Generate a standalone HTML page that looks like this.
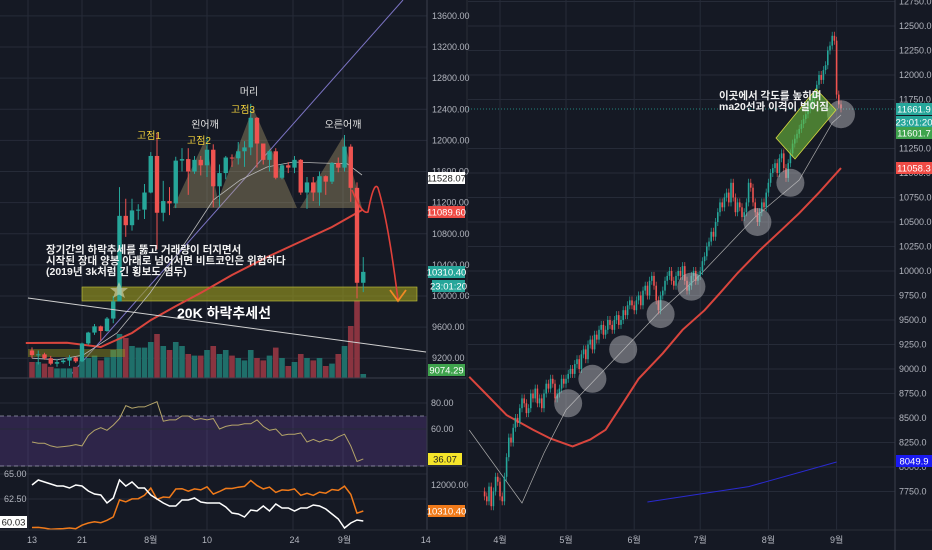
<!DOCTYPE html>
<html><head><meta charset="utf-8"><style>
html,body{margin:0;padding:0;background:#151924;}
svg{display:block;font-family:"Liberation Sans","Noto Sans CJK KR",sans-serif;}
</style></head><body>
<svg id="c" width="932" height="550" viewBox="0 0 932 550" xmlns="http://www.w3.org/2000/svg">
<rect x="0" y="0" width="932" height="550" fill="#151924"/>
<g id="lg"></g>
<g id="rg"></g>
</svg>
<script>
// ---------- LEFT CHART DATA (BTC daily, Jul 13 - Sep 4) ----------
const leftCloses=[9240,9250,9200,9130,9150,9170,9210,9160,9390,9530,9610,9550,9710,9930,11030,10910,11100,11110,11330,11800,11070,11220,11190,11740,11760,11600,11750,11680,11880,11410,11580,11780,11770,11860,11910,12290,11960,11750,11860,11520,11680,11650,11750,11330,11460,11330,11540,11470,11710,11650,11920,11390,10170,10310];
const leftHighs=[9340,9300,9270,9230,9190,9200,9240,9220,9400,9540,9640,9620,9730,10000,11400,11250,11250,11180,11440,11850,12100,11480,11400,11790,11900,11900,11800,11800,12050,11950,11690,11800,11820,11980,11990,12470,12300,11960,11880,11900,11700,11720,11800,11760,11530,11530,11600,11550,11720,11780,12070,11950,11460,10500];
const leftLows=[9200,9120,9180,9110,9090,9130,9100,9140,9150,9370,9500,9420,9540,9650,10000,10760,10840,10980,10990,11320,10600,10960,11040,11130,11600,11300,11570,11550,11530,11140,11150,11500,11660,11690,11660,11810,11650,11690,11600,11500,11500,11580,11580,11300,11120,11220,11160,11300,11440,11590,11600,11210,9970,10050];
const leftOpen0=9300;
const leftVolumes=[20,20,18,14,12,12,12,14,22,25,28,22,26,35,55,50,40,38,38,45,55,40,35,45,40,30,28,28,35,40,30,35,28,25,22,35,25,22,28,38,25,15,20,30,25,22,25,15,18,30,40,65,97,5];
const leftPriceTicks=[13600,13200,12800,12400,12000,11600,11200,10800,10400,10000,9600,9200];
const leftRedMADays=[-1,5.6,11,16,19,23,27,32,37.6,43,48,52.8];
const leftRedMAVals=[9396,9400,9345,9525,9690,9870,10040,10270,10500,10700,10887,11105];
const leftGrayMADays=[0,4,8.2,13.6,18.9,24.8,29,33.3,37.6,41.8,46,50.4,52.8];
const leftGrayMAVals=[9200,9180,9242,9525,10040,10720,11234,11490,11658,11722,11710,11700,11555];
const rsiVals=[50,49,49,47,46,46.5,47,48,47,55,59,61,59,63,68,78,76,77,77,79,81,66,67,67,70,70,67,68,67,68,60,62,63,63,64,64,67,62,59,60,55,56,56,57,50,52,50,52,51,54,56,47,35,37];
const rsiTicks=[80,60];
const osc1Vals=[63.9,64.4,64.2,64.0,63.8,63.8,63.6,63.9,63.8,63.3,63.0,62.9,62.1,62.6,64.4,63.8,64.2,63.6,63.6,62.9,62.5,62.1,61.8,61.8,62.4,62.4,62.6,62.2,62.1,62.1,62.1,61.7,61.1,61.0,60.7,61.4,61.3,61.8,61.3,62.0,61.6,61.6,61.3,61.6,61.6,61.9,61.8,61.5,61.0,60.5,59.6,60.1,60.4,60.3];
const osc1Ticks=[65.00,62.50];
const leftTimeLabels=["13","21","8월","10","24","9월","14"];
const leftTimeDays=[0,8,19,28,42,50,63];

// ---------- RIGHT CHART DATA (daily, from Mar 25) ----------
const rightCloses=[7700,7650,7800,7600,7750,7900,7850,
7700,7650,7900,8100,8300,8250,8400,8500,8450,8600,8700,8650,8550,8600,8750,8700,8800,8650,8700,8600,8750,8850,8800,8900,8850,8700,8750,8800,8900,8850,
8900,8950,9000,8950,9050,9100,9000,9150,9200,9100,9250,9300,9200,9350,9300,9400,9450,9350,9400,9500,9450,9400,9500,9550,9450,9500,9600,9550,9650,9700,9650,
9600,9700,9750,9650,9800,9850,9750,9900,9950,9850,9700,9600,9750,9800,9900,9950,10000,9900,9850,9950,10000,9950,10050,9900,9800,9850,9950,10000,9900,9950,
10000,10100,10150,10250,10300,10400,10350,10500,10600,10700,10650,10750,10800,10700,10900,10750,10600,10700,10650,10550,10600,10700,10900,10850,10700,10600,10500,10600,10700,10650,10800,
10900,11000,11050,11100,11000,11150,11200,11050,10950,11100,11200,11300,11350,11400,11450,11500,11550,11600,11650,11700,11750,11800,11900,12000,11950,12050,12100,12250,12300,12400,12350,
11800,11700,11660];
const rightOpen0=7750;
const rightPriceTicks=[12750,12500,12250,12000,11750,11250,11000,10750,10500,10250,10000,9750,9500,9250,9000,8750,8500,8250,8000,7750];
const rightRedMADays=[-7,0,10,22,30,40,48,55,62,70,81,90,100,107,115,125,135,143,152,162];
const rightRedMAVals=[8920,8760,8530,8380,8290,8210,8280,8380,8620,8900,9160,9400,9600,9775,9980,10210,10420,10590,10800,11050];
const rightGrayMADays=[-7,17,27,37,63,79,97,123,143,158,162];
const rightGrayMAVals=[8378,7633,8143,8582,9194,9571,9939,10551,10929,11510,11592];
const rightBlueDays=[74,120,160];
const rightBlueVals=[7643,7800,8051];
const circleDays=[38,49,63,80,94,124,139,162];
const circlePrices=[8650,8900,9200,9560,9840,10500,10900,11600];
const rightTimeLabels=["4월","5월","6월","7월","8월","9월"];
const rightTimeDays=[7,37,68,98,129,160];

const NS="http://www.w3.org/2000/svg";
function mk(tag,attrs,parent){const e=document.createElementNS(NS,tag);for(const k in attrs)e.setAttribute(k,attrs[k]);parent.appendChild(e);return e;}
function txt(s,attrs,parent){const e=mk("text",attrs,parent);e.textContent=s;return e;}
const lg=document.getElementById("lg"), rg=document.getElementById("rg");

const lx=d=>32+d*6.25;
const ly=p=>296-(p-10000)*0.0778;
const lvol=v=>378-v*0.8;
const rsiY=v=>403-(v-80)*1.3;
const oscY=v=>474+(65-v)*10;
const orY=p=>485-(p-12000)*0.0154;

leftPriceTicks.forEach(t=>{const l=mk("line",{x1:0,x2:427,y1:ly(t),y2:ly(t),stroke:"#262b38","stroke-width":1},lg);

});
[28,82,151,207,293,343].forEach(x=>{const l=mk("line",{x1:x,x2:x,y1:0,y2:530,stroke:"#262b38","stroke-width":1},lg);

});

let e=mk("line",{x1:68,y1:378,x2:403,y2:0,stroke:"#7c74c4","stroke-width":1},lg);



leftVolumes.forEach((v,i)=>{const o=i?leftCloses[i-1]:leftOpen0;const up=leftCloses[i]>=o;
const r=mk("rect",{x:lx(i)-2.8,y:lvol(v),width:5.6,height:378-lvol(v),fill:up?"#1f6f6a":"#8a3440"},lg);

});

e=mk("polygon",{points:"173,208 205,140 218,200 253,108 297,208",fill:"rgba(196,176,120,0.35)"},lg);


e=mk("polygon",{points:"300,208 343,137 362,208",fill:"rgba(196,176,120,0.35)"},lg);



e=mk("rect",{x:82,y:287,width:335,height:14,fill:"rgba(150,150,30,0.65)",stroke:"#c8c83c","stroke-width":0.6},lg);


e=mk("rect",{x:28,y:349,width:97,height:8,fill:"rgba(150,150,30,0.45)"},lg);



function path(days,vals,fx,fy){return days.map((d,i)=>(i?"L":"M")+fx(d).toFixed(1)+","+fy(vals[i]).toFixed(1)).join(" ");}
e=mk("path",{d:path(leftRedMADays,leftRedMAVals,lx,ly),fill:"none",stroke:"#d9453d","stroke-width":2},lg);


e=mk("path",{d:path(leftGrayMADays,leftGrayMAVals,lx,ly),fill:"none",stroke:"#b8b8b8","stroke-width":0.8},lg);



leftCloses.forEach((c,i)=>{const o=i?leftCloses[i-1]:leftOpen0;const up=c>=o;const col=up?"#26a69a":"#ef5350";const x=lx(i);
const w=mk("line",{x1:x,x2:x,y1:ly(leftHighs[i]),y2:ly(leftLows[i]),stroke:col,"stroke-width":1},lg);


const top=ly(Math.max(o,c)),bot=ly(Math.min(o,c));
const b=mk("rect",{x:x-2.2,y:top,width:4.4,height:Math.max(1,bot-top),fill:col},lg);

});

e=mk("line",{x1:28,y1:298,x2:426,y2:352,stroke:"#d0d0d0","stroke-width":1},lg);



e=mk("path",{d:"M352,190 Q362,215 368,212 Q374,180 378,188 Q388,220 398,300",fill:"none",stroke:"#e0403a","stroke-width":1.6},lg);


e=mk("path",{d:"M390,290 L398,301 L406,290",fill:"none",stroke:"#f08a24","stroke-width":1.8},lg);



e=mk("polygon",{points:"119,282 121.5,288 128,288 123,292 125,298 119,294.5 113,298 115,292 110,288 116.5,288",fill:"rgba(220,220,180,0.6)"},lg);



const ann=[["머리",249,95,"#e0e0e0"],["왼어깨",205,128,"#e0e0e0"],["고점3",243,113,"#f2d13b"],["고점1",149,139,"#f2d13b"],["고점2",199,144,"#f2d13b"],["오른어깨",343,128,"#e0e0e0"]];
ann.forEach(a=>{const t=txt(a[0],{x:a[1],y:a[2],fill:a[3],"font-size":10,"text-anchor":"middle"},lg);

});
["장기간의 하락추세를 뚫고 거래량이 터지면서","시작된 장대 양봉 아래로 넘어서면 비트코인은 위험하다","(2019년 3k처럼 긴 횡보도 염두)"].forEach((s,i)=>{
const t=txt(s,{x:46,y:253+i*11,fill:"#f0f0f0","font-size":10.5,"font-weight":"bold"},lg);

});
e=txt("20K 하락추세선",{x:224,y:318,fill:"#ffffff","font-size":14,"font-weight":"bold","text-anchor":"middle"},lg);



[378,466].forEach(y=>{const l=mk("line",{x1:0,x2:466,y1:y,y2:y,stroke:"#3a3f4c","stroke-width":1},lg);

});

e=mk("rect",{x:0,y:416,width:427,height:50,fill:"rgba(110,70,170,0.28)"},lg);


[416,466].forEach(y=>{const l=mk("line",{x1:0,x2:427,y1:y,y2:y,stroke:"#9a9ab0","stroke-width":0.8,"stroke-dasharray":"4,3"},lg);

});
rsiTicks.forEach(t=>{const l=mk("line",{x1:0,x2:427,y1:rsiY(t),y2:rsiY(t),stroke:"#262b38"},lg);


const tt=txt(t.toFixed(2),{x:431,y:rsiY(t)+3,fill:"#b2b5be","font-size":9},lg);

});
e=mk("path",{d:rsiVals.map((v,i)=>(i?"L":"M")+lx(i).toFixed(1)+","+rsiY(v).toFixed(1)).join(" "),fill:"none",stroke:"#b5a56a","stroke-width":1},lg);



osc1Ticks.forEach(t=>{const l=mk("line",{x1:0,x2:427,y1:oscY(t),y2:oscY(t),stroke:"#262b38"},lg);


const tt=txt(t.toFixed(2),{x:4,y:oscY(t)+3,fill:"#b2b5be","font-size":9},lg);

});
e=mk("path",{d:leftCloses.map((v,i)=>(i?"L":"M")+lx(i).toFixed(1)+","+orY(v).toFixed(1)).join(" "),fill:"none",stroke:"#f07a1a","stroke-width":1.5},lg);


e=mk("path",{d:osc1Vals.map((v,i)=>(i?"L":"M")+lx(i).toFixed(1)+","+oscY(v).toFixed(1)).join(" "),fill:"none",stroke:"#ffffff","stroke-width":1.5},lg);


e=txt("12000.00",{x:431,y:orY(12000)+3,fill:"#b2b5be","font-size":9},lg);



e=mk("line",{x1:427,x2:427,y1:0,y2:530,stroke:"#3a3f4c"},lg);


e=mk("line",{x1:467,x2:467,y1:0,y2:550,stroke:"#2a2e39"},lg);


leftPriceTicks.forEach(t=>{const tt=txt(t.toFixed(2),{x:432,y:ly(t)+3,fill:"#b2b5be","font-size":9},lg);

});

function badge(g,x,y,w,s,bg,fg,name){const r=mk("rect",{x:x,y:y-6,width:w,height:12,fill:bg},g);


const t=txt(s,{x:x+w/2,y:y+3.5,fill:fg,"font-size":9.5,"text-anchor":"middle"},g);

}
badge(lg,428,178,37,"11528.07","#ffffff","#222","price-label-white");
badge(lg,428,212,37,"11089.60","#ef4b45","#fff","price-label-red");
badge(lg,428,272,37,"10310.40","#26a69a","#fff","price-label-last");
badge(lg,432,286,33,"23:01:20","#26a69a","#fff","countdown-label");
badge(lg,428,370,37,"9074.29","#3fa34d","#fff","price-label-green");
badge(lg,428,459,34,"36.07","#f5e52a","#222","rsi-value-label");
badge(lg,428,511,37,"10310.40","#f07a1a","#fff","osc-price-label");
badge(lg,0,522,27,"60.03","#ffffff","#222","osc-value-label");

e=mk("line",{x1:0,x2:932,y1:530,y2:530,stroke:"#2a2e39"},lg);


leftTimeLabels.forEach((s,i)=>{const t=txt(s,{x:lx(leftTimeDays[i]),y:543,fill:"#b2b5be","font-size":9,"text-anchor":"middle"},lg);

});

// ---------- RIGHT CHART ----------
const rx=d=>484.6+d*2.2;
const ry=p=>271-(p-10000)*0.098;
rightPriceTicks.forEach(t=>{const l=mk("line",{x1:468,x2:895,y1:ry(t),y2:ry(t),stroke:"#262b38"},rg);


const tt=txt(t.toFixed(1),{x:899,y:ry(t)+3,fill:"#b2b5be","font-size":9},rg);

});
rightTimeDays.forEach((d,i)=>{const l=mk("line",{x1:rx(d),x2:rx(d),y1:0,y2:530,stroke:"#262b38"},rg);


const t=txt(rightTimeLabels[i],{x:rx(d),y:543,fill:"#b2b5be","font-size":9,"text-anchor":"middle"},rg);

});
e=mk("line",{x1:895,x2:895,y1:0,y2:550,stroke:"#3a3f4c"},rg);


e=mk("line",{x1:468,x2:895,y1:109,y2:109,stroke:"#26a69a","stroke-width":0.7,"stroke-dasharray":"1,2"},rg);



e=mk("path",{d:path(rightBlueDays,rightBlueVals,rx,ry),fill:"none",stroke:"#2a2ad0","stroke-width":1},rg);


e=mk("path",{d:path(rightRedMADays,rightRedMAVals,rx,ry),fill:"none",stroke:"#d9453d","stroke-width":2},rg);


e=mk("path",{d:path(rightGrayMADays,rightGrayMAVals,rx,ry),fill:"none",stroke:"#aaaaaa","stroke-width":0.7},rg);



rightCloses.forEach((c,i)=>{const o=i?rightCloses[i-1]:rightOpen0;const up=c>=o;const col=up?"#26a69a":"#ef5350";const x=rx(i);
const top=ry(Math.max(o,c)),bot=ry(Math.min(o,c));
const w=mk("line",{x1:x,x2:x,y1:top-4,y2:bot+4,stroke:col,"stroke-width":0.7},rg);


const b=mk("rect",{x:x-0.8,y:top,width:1.6,height:Math.max(1,bot-top),fill:col},rg);

});

circleDays.forEach((d,i)=>{const c=mk("circle",{cx:rx(d),cy:ry(circlePrices[i]),r:14,fill:"rgba(200,200,205,0.45)"},rg);

});

e=mk("polygon",{points:"776,138 816,89 836,110 795,159",fill:"rgba(110,190,60,0.6)",stroke:"#d8d840","stroke-width":0.8},rg);


["이곳에서 각도를 높히며","ma20선과 이격이 벌어짐"].forEach((s,i)=>{const t=txt(s,{x:719,y:99+i*11,fill:"#f0f0f0","font-size":10.5,"font-weight":"bold"},rg);

});

badge(rg,896,109,36,"11661.9","#26a69a","#fff","right-last-price");
badge(rg,896,122,36,"23:01:20","#26a69a","#fff","right-countdown");
badge(rg,896,133,36,"11601.7","#3fa34d","#fff","right-ma20-label");
badge(rg,896,168,36,"11058.3","#ef4b45","#fff","right-ma-red-label");
badge(rg,896,461,36,"8049.9","#1a1af0","#fff","right-ma-blue-label");
</script>
</body></html>
